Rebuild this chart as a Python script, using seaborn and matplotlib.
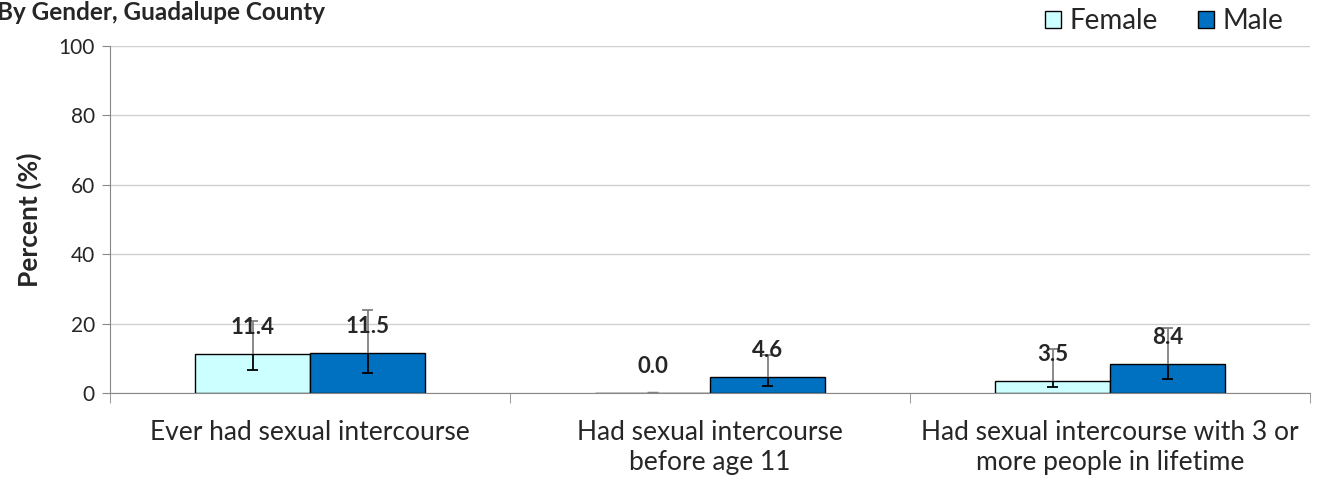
import matplotlib
matplotlib.use('Agg')
import matplotlib.pyplot as plt
import seaborn as sns
import pandas as pd

### DATA ###

categories = ['Ever had sexual intercourse',
              'Had sexual intercourse\nbefore age 11',
              'Had sexual intercourse with 3 or\nmore people in lifetime']
genders = ['Female', 'Male']
female = [11.4, 0.0, 3.5]
male = [11.5, 4.6, 8.4]
female_lo = [6.8, 0.0, 1.7]
female_hi = [20.7, 0.0, 12.7]
male_lo = [5.7, 2.0, 4.2]
male_hi = [24.0, 11.0, 18.8]

### PLOT ###

sns.set_style('white')
plt.rcParams['font.family'] = ['Lato', 'DejaVu Sans']

df = pd.DataFrame({
    'category': categories * 2,
    'gender': ['Female'] * 3 + ['Male'] * 3,
    'value': female + male,
})
lo = female_lo + male_lo
hi = female_hi + male_hi

fig = plt.figure(figsize=(13.18, 4.8), dpi=100)
ax = fig.add_axes([0.0835, 0.181, 0.9105, 0.723])

sns.barplot(data=df, x='category', y='value', hue='gender', hue_order=genders,
            palette={'Female': '#CCFFFF', 'Male': '#0070C0'}, saturation=1,
            edgecolor='black', linewidth=1, width=0.575, errorbar=None, ax=ax,
            zorder=2)

bars = ax.patches[:6]
cap = 0.013
for p, v, l, h in zip(bars, df['value'], lo, hi):
    cx = p.get_x() + p.get_width() / 2
    if v > 0:
        # upper half grey, lower half black (as in the original)
        ax.vlines(cx, v, h, color='#808080', lw=1.3, zorder=3)
        ax.hlines(h, cx - cap, cx + cap, color='#808080', lw=1.3, zorder=3)
        ax.vlines(cx, l, v, color='black', lw=1.3, zorder=3)
        ax.hlines(l, cx - cap, cx + cap, color='black', lw=1.3, zorder=3)
    else:
        ax.hlines(0, cx - cap, cx + cap, color='#808080', lw=2.5, zorder=3)
    ax.annotate(f'{v:.1f}', (cx, v), xytext=(0, 19), textcoords='offset points',
                ha='center', va='center', fontsize=16, fontweight='bold', zorder=4)

ax.set_ylim(0, 100)
ax.set_xlim(-0.5, 2.5)
ax.set_yticks(range(0, 101, 20))
ax.yaxis.grid(True, color='#D0D0D0', lw=1)
ax.set_axisbelow(True)
for s in ['top', 'right']:
    ax.spines[s].set_visible(False)
for s in ['left', 'bottom']:
    ax.spines[s].set_color('#888888')

ax.set_xlabel('')
ax.set_ylabel('Percent (%)', fontsize=19, fontweight='bold', labelpad=12)
ax.tick_params(axis='y', labelsize=15, length=6, color='#888888', direction='out', left=True, pad=5)
ax.set_xticks([0, 1, 2])
ax.set_xticklabels(categories, fontsize=19, linespacing=1.25)
ax.tick_params(axis='x', length=0, pad=19)
ax.set_xticks([-0.5, 0.5, 1.5, 2.5], minor=True)
ax.tick_params(axis='x', which='minor', length=7, color='#888888', direction='out', bottom=True)

fig.text(-0.002, 0.998, 'By Gender, Guadalupe County', fontsize=17.5, fontweight='bold',
         ha='left', va='top')

handles, labels = ax.get_legend_handles_labels()
ax.legend(handles, labels, loc='upper right', bbox_to_anchor=(0.993, 1.035), bbox_transform=fig.transFigure,
          ncol=2, frameon=False, fontsize=20, handlelength=0.58, handleheight=0.58,
          handletextpad=0.32, columnspacing=1.44)

plt.savefig('out.png', dpi=100)
